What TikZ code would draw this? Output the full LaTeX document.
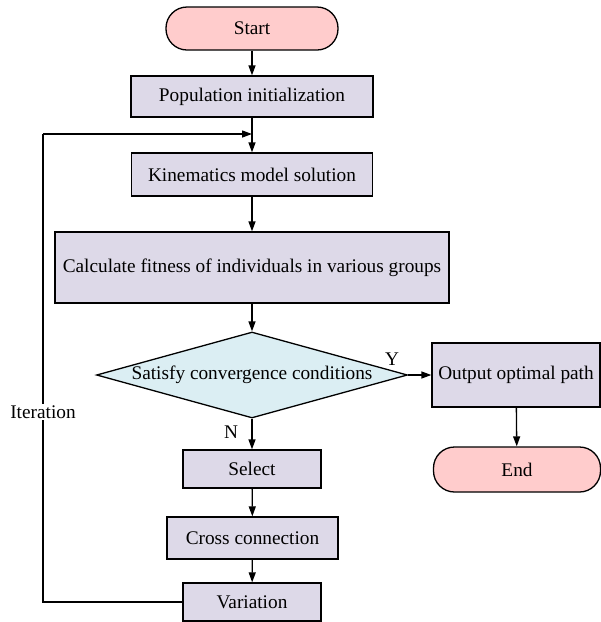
\documentclass[tikz,border=0pt]{standalone}
\usepackage{fontspec}
\setmainfont{Liberation Serif}
\newfontfamily\flowfont{Liberation Serif}
\usepackage{tikz}
\usetikzlibrary{shapes.geometric,arrows.meta,calc}
\definecolor{termpink}{RGB}{255,204,204}
\definecolor{boxlilac}{RGB}{221,217,232}
\definecolor{decblue}{RGB}{219,238,243}
\tikzset{every picture/.append style={x=1pt,y=-1pt}}
\tikzset{every node/.append style={font=\flowfont\fontsize{19.3}{23}\selectfont}}
\tikzset{terminal/.style={rectangle, rounded corners=21pt, draw, line width=1.3pt, fill=termpink, inner sep=0pt}}
\tikzset{stepbox/.style={rectangle, draw, line width=1.3pt, fill=boxlilac, inner sep=0pt}}
\tikzset{decision/.style={diamond, draw, line width=1.3pt, fill=decblue, inner sep=0pt, aspect=3.6}}
\tikzset{arc/.style={line width=1.3pt, -{Triangle[length=10pt,width=7pt]}}}
\tikzset{edge/.style={line width=1.3pt}}

\begin{document}
\begin{tikzpicture}
\useasboundingbox (0,0) rectangle (601,622);
\node (start) at (252,28.5)[terminal, minimum width=172pt, minimum height=43pt]{Start};
\node (pop) at (252,96.5)[stepbox, minimum width=242pt, minimum height=41pt]{Population initialization};
\node (kin) at (252,174.5)[stepbox, minimum width=241pt, minimum height=43pt]{Kinematics model solution};
\node (calc) at (252,267.5)[stepbox, minimum width=394pt, minimum height=71pt]{Calculate fitness of individuals in various groups};
\node (conv) at (252,375)[decision, minimum width=311pt, minimum height=86pt]{Satisfy convergence conditions};
\node (out) at (516,375)[stepbox, minimum width=168pt, minimum height=64pt]{Output optimal path};
\node (end) at (517,469.5)[terminal, minimum width=167pt, minimum height=45pt]{End};
\node (sel) at (252,469)[stepbox, minimum width=138pt, minimum height=38pt]{Select};
\node (cross) at (252.5,538)[stepbox, minimum width=171pt, minimum height=42pt]{Cross connection};
\node (var) at (252,602)[stepbox, minimum width=138pt, minimum height=38pt]{Variation};

\coordinate (loopin) at (252,134);
\coordinate (c1) at (43,602);
\coordinate (c2) at (43,134);

\draw[arc] (start)--(pop);
\draw[arc] (pop)--(kin);
\draw[arc] (kin)--(calc);
\draw[arc] (calc)--(conv);
\draw[arc] (conv)--(out);
\draw[arc] (out)--(end);
\draw[arc] (conv)--(sel);
\draw[arc] (sel)--(cross);
\draw[arc] (cross)--(var);

%loop back for the next iteration
\draw[edge] (var.west)--(c1)--(c2);
\draw[arc] (c2)--(loopin);
\node (iter) at (43,412)[fill=white, inner sep=2pt]{Iteration};

\node (yes) at (392,359){Y};
\node (no) at (231,432){N};
\end{tikzpicture}
\end{document}
